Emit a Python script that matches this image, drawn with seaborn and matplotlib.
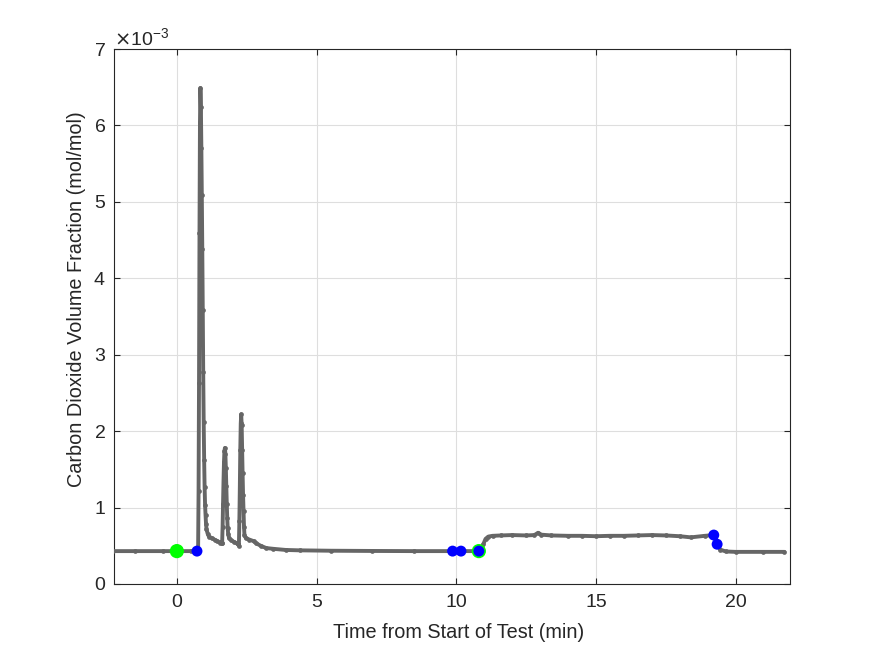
import numpy as np
import pandas as pd
import matplotlib
matplotlib.use("Agg")
import matplotlib.pyplot as plt
import seaborn as sns

# CO2 trace (time in min, value in 1e-3 mol/mol)
time_min = [-2.30, -1.50, -0.50, 0.00, 0.50, 0.72,
            0.760, 0.777, 0.793, 0.810, 0.827, 0.843, 0.860, 0.877, 0.893, 0.910,
            0.927, 0.943, 0.960, 0.977, 0.993, 1.010, 1.027, 1.043, 1.060, 1.10,
            1.15, 1.25, 1.35, 1.45, 1.55, 1.60,
            1.620, 1.637, 1.653, 1.670, 1.687, 1.703, 1.720, 1.737, 1.753, 1.770,
            1.787, 1.803, 1.820, 1.837, 1.87, 1.95, 2.05, 2.15, 2.20,
            2.220, 2.237, 2.253, 2.270, 2.287, 2.303, 2.320, 2.337, 2.353, 2.370,
            2.387, 2.403, 2.42, 2.47, 2.60, 2.75, 2.85, 3.00, 3.20, 3.45, 3.90,
            4.40, 5.50, 7.00, 8.50, 9.87, 10.17, 10.81,
            10.90, 10.97, 11.05, 11.15, 11.30, 11.60, 12.00, 12.50, 12.80, 12.93,
            13.05, 13.40, 14.00, 14.50, 15.00, 15.50, 16.00, 16.50, 17.00, 17.50,
            18.00, 18.40, 18.90, 19.22, 19.28, 19.34, 19.45, 19.65, 20.00, 21.00,
            21.75]
co2_e3 = [0.43, 0.43, 0.43, 0.43, 0.43, 0.43,
          0.43, 1.21, 2.63, 4.59, 6.04, 6.49, 6.24, 5.70, 5.09, 4.38,
          3.59, 2.78, 2.12, 1.62, 1.27, 1.03, 0.90, 0.79, 0.72, 0.66,
          0.62, 0.60, 0.58, 0.56, 0.54, 0.53,
          0.53, 0.75, 1.05, 1.35, 1.60, 1.74, 1.78, 1.70, 1.52, 1.28,
          1.05, 0.86, 0.73, 0.65, 0.60, 0.57, 0.55, 0.53, 0.52,
          0.50, 0.82, 1.23, 1.75, 2.10, 2.22, 2.08, 1.75, 1.45, 1.16,
          0.95, 0.75, 0.64, 0.60, 0.58, 0.56, 0.53, 0.50, 0.47, 0.46, 0.445,
          0.44, 0.435, 0.432, 0.43, 0.43, 0.43, 0.43,
          0.45, 0.52, 0.59, 0.62, 0.63, 0.635, 0.64, 0.635, 0.64, 0.67,
          0.645, 0.635, 0.63, 0.63, 0.625, 0.63, 0.63, 0.635, 0.64, 0.635,
          0.625, 0.61, 0.63, 0.64, 0.60, 0.52, 0.45, 0.425, 0.42, 0.42,
          0.42]

# event markers
green_t = [0.00, 10.81]
green_v = [0.43, 0.43]
blue_t = [0.72, 9.87, 10.17, 10.81, 19.22, 19.34]
blue_v = [0.43, 0.43, 0.43, 0.43, 0.64, 0.52]

df = pd.DataFrame({"t": time_min, "co2": np.array(co2_e3) * 1e-3})
df_green = pd.DataFrame({"t": green_t, "co2": np.array(green_v) * 1e-3})
df_blue = pd.DataFrame({"t": blue_t, "co2": np.array(blue_v) * 1e-3})

sns.set_style("white")
plt.rcParams['font.family'] = ['Liberation Sans', 'DejaVu Sans']

fig = plt.figure(figsize=(8.75, 6.56), dpi=100)
ax = fig.add_axes([0.1303, 0.1098, 0.7726, 0.8155])

sns.lineplot(data=df, x="t", y="co2", ax=ax, sort=False, estimator=None,
             color="#666666", linewidth=2.8, marker="o", markersize=3.4,
             markeredgewidth=0, zorder=3)
sns.scatterplot(data=df_green, x="t", y="co2", ax=ax, color="#00ff00",
                s=105, edgecolor="none", zorder=4)
sns.scatterplot(data=df_blue, x="t", y="co2", ax=ax, color="#0000ff",
                s=62, edgecolor="none", zorder=5)

ax.set_xlim(-2.25, 21.95)
ax.set_ylim(0, 7e-3)
ax.set_xticks([0, 5, 10, 15, 20])
ax.set_yticks(np.arange(0, 8) * 1e-3)
ax.ticklabel_format(axis="y", style="sci", scilimits=(-3, -3), useMathText=True)
ax.yaxis.get_offset_text().set_fontsize(14)
ax.yaxis.get_offset_text().set_color("#262626")

ax.grid(True, color="#dedede", linewidth=0.8)
ax.set_axisbelow(True)
for s in ax.spines.values():
    s.set_color("#262626")
    s.set_linewidth(0.8)
ax.tick_params(direction="in", length=4, width=0.8, colors="#262626",
               labelsize=14, top=True, right=True, bottom=True, left=True)
ax.tick_params(axis="x", pad=7)
ax.tick_params(axis="y", pad=6)

ax.set_xlabel("Time from Start of Test (min)", fontsize=14.3, color="#262626",
              va="center")
ax.set_ylabel("Carbon Dioxide Volume Fraction (mol/mol)", fontsize=14.3,
              color="#262626", va="center")
ax.xaxis.set_label_coords(0.510, -0.0916)
ax.yaxis.set_label_coords(-0.056, 0.533)

fig.savefig("out.png", dpi=100)
